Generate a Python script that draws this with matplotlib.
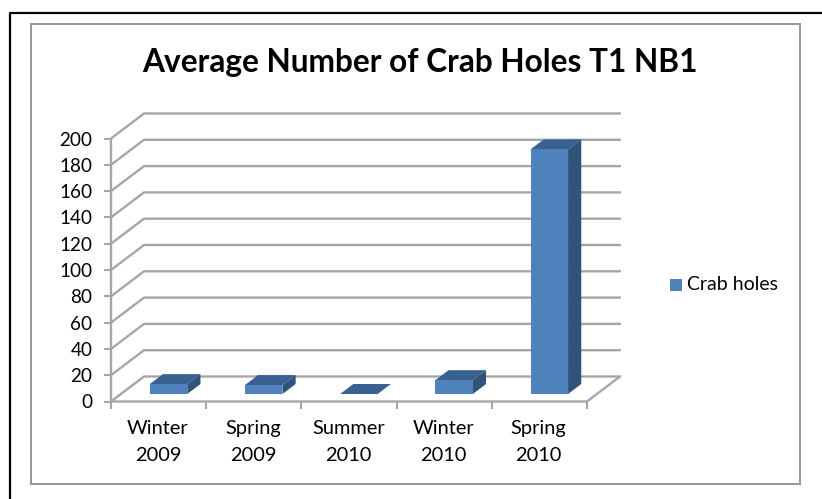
import matplotlib
matplotlib.use("Agg")
import matplotlib.pyplot as plt
from matplotlib.patches import Polygon, Rectangle

categories = ["Winter\n2009", "Spring\n2009", "Summer\n2010", "Winter\n2010", "Spring\n2010"]
crab_holes = [7.5, 6.8, 0, 10.5, 186]
y_ticks = list(range(0, 201, 20))
series_name = "Crab holes"
chart_title = "Average Number of Crab Holes T1 NB1"

W, H = 822, 499
FRONT, DARK_SIDE, DARK_TOP = "#4F81BD", "#31527A", "#3A6091"
GRID = "#A6A6A6"
plt.rcParams["font.family"] = ["Lato", "DejaVu Sans"]

fig = plt.figure(figsize=(W / 100, H / 100), dpi=100, facecolor="white")

# Page frame and chart frame live in pixel space on the figure
page = fig.add_axes([0, 0, 1, 1], zorder=0)
page.set_xlim(0, W)
page.set_ylim(H, 0)
page.axis("off")
page.plot([10, 10, W + 5], [H + 5, 13, 13], color="black", lw=1.6, clip_on=False)
page.add_patch(Rectangle((31, 24), 769, 460, fc="white", ec="#969696", lw=1.4))
page.text(420, 62, chart_title, ha="center", va="center", fontsize=22.8,
          fontweight="bold", color="black")
page.add_patch(Rectangle((670, 279), 12, 12, fc=FRONT, ec="none"))
page.text(687, 285, series_name, ha="left", va="center", fontsize=14, color="black")

# Value axes: front plane of the oblique 3-D box
left, right, bottom, top = 111, 587, 401.5, 138.5
ax = fig.add_axes([left / W, 1 - bottom / H, (right - left) / W, (bottom - top) / H], zorder=1)
ax.set_xlim(0, len(categories))
ax.set_ylim(0, 200)
ax.patch.set_alpha(0)
for s in ax.spines.values():
    s.set_visible(False)

# Depth of the box expressed in data units
depth_x = 33 / ((right - left) / len(categories))
depth_y = 25 / ((bottom - top) / 200)
n = len(categories)
line = dict(color=GRID, lw=1.7, clip_on=False, solid_capstyle="round", solid_joinstyle="round")

# Walls: horizontal gridlines along the back and diagonals on the side wall and floor
for v in y_ticks:
    ax.plot([0, depth_x, n + depth_x], [v, v + depth_y, v + depth_y], **line)
ax.plot([0, 0], [0, 200], **line)
ax.plot([0, n, n + depth_x], [0, 0, depth_y], **line)

ax.set_yticks(y_ticks)
ax.set_xticks(range(n + 1))
ax.set_xticklabels([""] * (n + 1))
ax.tick_params(axis="y", length=5, width=1.5, color=GRID, labelsize=13.6, pad=8.5, labelcolor="black")
ax.tick_params(axis="x", length=5, width=1.5, color=GRID)
for i, label in enumerate(categories):
    ax.annotate(label, xy=(i + 0.5, 0), xytext=(-0.5, -13.5), textcoords="offset points",
                ha="center", va="top", fontsize=14.4, linespacing=1.72, color="black")

# Bars: front, top and side faces sitting in the middle of the floor depth
bar_width = 0.394
near, far = 0.3, 0.7
for i, value in enumerate(crab_holes):
    x0 = i + 0.5 - bar_width / 2 + near * depth_x
    x1 = x0 + bar_width
    y0 = near * depth_y
    y1 = y0 + value
    dx = (far - near) * depth_x
    dy = (far - near) * depth_y
    ax.add_patch(Polygon([(x1, y0), (x1 + dx, y0 + dy), (x1 + dx, y1 + dy), (x1, y1)],
                         fc=DARK_SIDE, ec="none", clip_on=False, zorder=3))
    ax.add_patch(Polygon([(x0, y1), (x1, y1), (x1 + dx, y1 + dy), (x0 + dx, y1 + dy)],
                         fc=DARK_TOP, ec="none", clip_on=False, zorder=3))
    if value > 0:
        ax.add_patch(Rectangle((x0, y0), bar_width, value, fc=FRONT, ec="none",
                               clip_on=False, zorder=4))

fig.savefig("out.png", dpi=100)
